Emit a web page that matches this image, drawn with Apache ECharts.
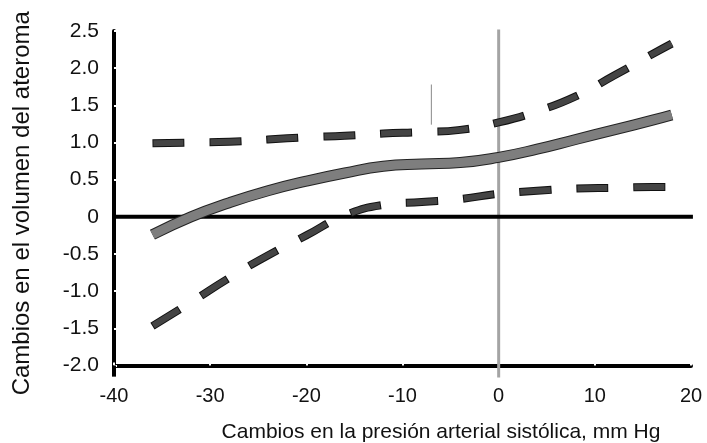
<!DOCTYPE html>
<html>
<head>
<meta charset="utf-8">
<script src="https://cdn.jsdelivr.net/npm/echarts@6/dist/echarts.min.js"></script>
<style>
  html, body { margin: 0; padding: 0; background: #fff; }
  #chart { width: 707px; height: 443px; }
</style>
</head>
<body>
<div id="chart"></div>
<script>
// Change in systolic blood pressure (mm Hg) at which each curve is sampled
const sbpChange = [-36, -32, -28, -24, -20, -16, -12, -8, -4, 0, 4, 8, 12, 16, 18];
// Estimated change in atheroma volume and its confidence limits
const meanChange = [-0.24, 0.00, 0.19, 0.35, 0.48, 0.59, 0.68, 0.71, 0.73, 0.80, 0.91, 1.04, 1.17, 1.30, 1.37];
const upperLimit = [0.99, 1.00, 1.01, 1.04, 1.07, 1.09, 1.12, 1.14, 1.17, 1.27, 1.42, 1.62, 1.90, 2.19, 2.33];
const lowerLimit = [-1.47, -1.15, -0.82, -0.52, -0.25, 0.02, 0.16, 0.20, 0.24, 0.31, 0.35, 0.38, 0.39, 0.40, 0.40];

// Axis ticks
const xTicks = [-40, -30, -20, -10, 0, 10, 20];
const yTickLabels = ['-2.0', '-1.5', '-1.0', '-0.5', '0', '0.5', '1.0', '1.5', '2.0', '2.5'];

// Reference lines
const zeroLine = [[-40.75, 0], [20.2, 0]];
const xZeroLine = [[0, 2.52], [0, -2.16]];
const yAxisFoot = [[-40, -2], [-40, -2.15]];
const markStroke = [[-7, 1.78], [-7, 1.24]];

const FONT = '"Liberation Sans", Arial, sans-serif';
const xMin = xTicks[0], xMax = xTicks[xTicks.length - 1], xStep = xTicks[1] - xTicks[0];
const yMin = -2, yMax = 2.5, yStep = 0.5;

const pairs = (xs, ys) => xs.map((x, i) => [x, ys[i]]);

function plainLine(data, color, width, z) {
  return {
    type: 'line', data, symbol: 'none', clip: false, z, silent: true,
    lineStyle: { color, width, cap: 'butt' }
  };
}

function curve(ys, color, width, z, dash, offset) {
  const s = {
    type: 'line', data: pairs(sbpChange, ys), symbol: 'none', smooth: 0.5,
    z, silent: true, clip: false,
    lineStyle: { color, width, cap: 'butt', join: 'round' }
  };
  if (dash) {
    s.lineStyle.type = dash;
    s.lineStyle.dashOffset = offset || 0;
  }
  return s;
}

const chart = echarts.init(document.getElementById('chart'), null, { renderer: 'canvas' });
chart.setOption({
  animation: false,
  backgroundColor: '#fff',
  grid: { left: 114, right: 16, top: 31, bottom: 77.5, containLabel: false, outerBoundsMode: 'none' },
  xAxis: {
    type: 'value', min: xMin, max: xMax, interval: xStep,
    axisLine: { show: true, onZero: false, lineStyle: { color: '#000', width: 4 } },
    axisTick: { show: true, inside: true, length: 3, lineStyle: { color: '#fff', width: 2 } },
    splitLine: { show: false },
    axisLabel: { color: '#111', fontSize: 20, fontFamily: FONT, margin: 21 },
    name: 'Cambios en la presión arterial sistólica, mm Hg',
    nameLocation: 'middle', nameGap: 56,
    nameTextStyle: { color: '#111', fontSize: 21, fontFamily: FONT, padding: [0, 0, 0, 77] }
  },
  yAxis: {
    type: 'value', min: yMin, max: yMax, interval: yStep,
    axisLine: { show: true, onZero: false, lineStyle: { color: '#000', width: 4 } },
    axisTick: { show: true, inside: true, length: 3, lineStyle: { color: '#fff', width: 2 } },
    splitLine: { show: false },
    axisLabel: {
      color: '#111', fontSize: 21, fontFamily: FONT, margin: 15,
      formatter: v => yTickLabels[Math.round((v - yMin) / yStep)]
    },
    name: 'Cambios en el volumen del ateroma',
    nameLocation: 'middle', nameGap: 80,
    nameTextStyle: { color: '#111', fontSize: 24, fontFamily: FONT, padding: [0, 10, 0, 0] }
  },
  series: [
    plainLine(xZeroLine, '#a4a4a4', 3, 1),
    plainLine(zeroLine, '#000', 4, 2),
    plainLine(yAxisFoot, '#000', 4, 2),
    plainLine(markStroke, '#888', 1, 2),
    // lower confidence limit: dark outline with a grey core
    curve(lowerLimit, '#111', 8, 3, [32, 25], 0),
    curve(lowerLimit, '#444', 6, 4, [30, 27], -1),
    // upper confidence limit
    curve(upperLimit, '#111', 8, 3, [32, 25], 0),
    curve(upperLimit, '#444', 6, 4, [30, 27], -1),
    // estimated change
    curve(meanChange, '#222', 11, 5),
    curve(meanChange, '#7e7e7e', 9, 6)
  ]
});
</script>
</body>
</html>
